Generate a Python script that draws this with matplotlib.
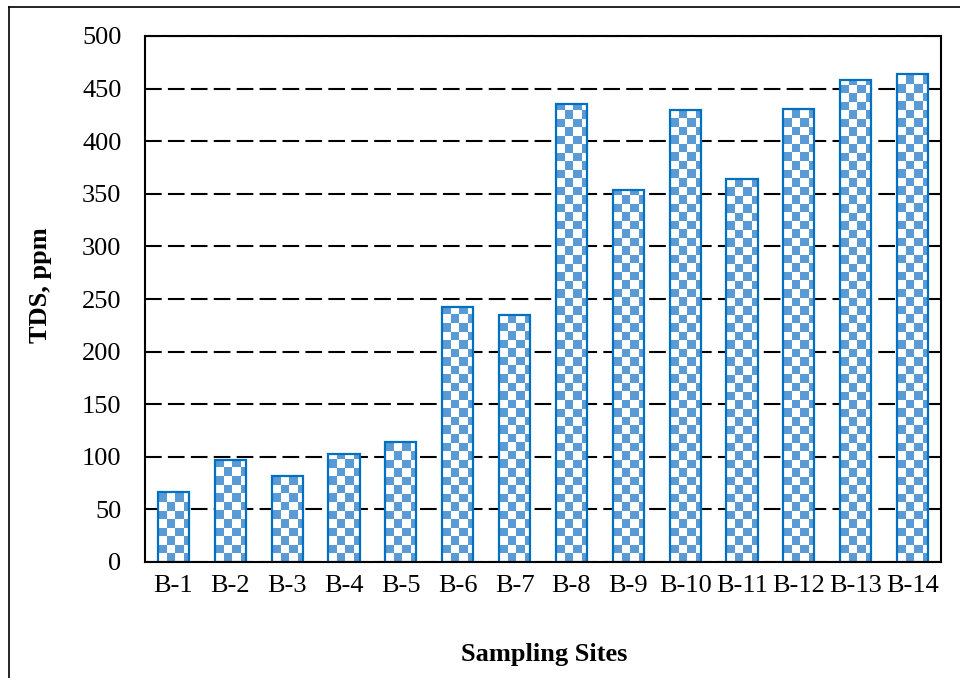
import numpy as np
import matplotlib.pyplot as plt
from matplotlib.lines import Line2D

# TDS por sitio de muestreo
sites = ['B-1', 'B-2', 'B-3', 'B-4', 'B-5', 'B-6', 'B-7',
         'B-8', 'B-9', 'B-10', 'B-11', 'B-12', 'B-13', 'B-14']
tds = [67, 97, 82, 103, 114, 242, 235, 435, 354, 430, 364, 431, 458, 464]

plt.rcParams['font.family'] = ['Liberation Serif', 'DejaVu Serif']

fig = plt.figure(figsize=(9.6, 6.78), dpi=100)
ax = fig.add_axes([145/960, 1 - 562/678, (941-145)/960, (562-36)/678])

x = np.arange(len(sites))
w = 0.55
bars = ax.bar(x, tds, width=w, facecolor='none', edgecolor='#0070C0',
              linewidth=1.6, zorder=3)

# relleno a cuadros (cada cuadro ~8.5 px)
sq_x, sq_y = 0.15, 8.1
for b, v in zip(bars, tds):
  nx = int(np.ceil(w / sq_x))
  ny = int(np.ceil(v / sq_y))
  ii, jj = np.indices((ny, nx))
  chk = ((ii + jj) % 2).astype(float)
  img = np.ones((ny, nx, 3))
  img[chk == 1] = [0x5B/255, 0x9B/255, 0xD5/255]
  x0 = b.get_x()
  im = ax.imshow(img, extent=(x0, x0 + nx*sq_x, 0, ny*sq_y), origin='lower',
                 interpolation='nearest', aspect='auto', zorder=2)
  im.set_clip_path(b)

ax.set_xlim(-0.5, len(sites) - 0.5)
ax.set_ylim(0, 500)
ax.set_yticks(np.arange(0, 501, 50))
ax.set_xticks(x)
ax.set_xticklabels(sites)
ax.tick_params(axis='both', length=0, labelsize=19)
ax.tick_params(axis='y', pad=17)
ax.tick_params(axis='x', pad=9)
ax.yaxis.grid(True, color='black', linewidth=1.5, linestyle=(0, (8, 3)), zorder=1)
ax.set_axisbelow(True)
for s in ax.spines.values():
  s.set_linewidth(1.5)
  s.set_zorder(4)

fig.text(40/960, 1 - 285/678, 'TDS, ppm', fontsize=19, fontweight='bold',
         rotation=90, ha='center', va='center')
fig.text(544/960, 1 - 655/678, 'Sampling Sites', fontsize=19,
         fontweight='bold', ha='center', va='center')

# marco exterior
fig.add_artist(Line2D([9/960, 9/960], [0, 1 - 7/678], color='black', lw=1.2))
fig.add_artist(Line2D([9/960, 1], [1 - 7/678, 1 - 7/678], color='black', lw=1.2))

fig.savefig('out.png', dpi=100)
